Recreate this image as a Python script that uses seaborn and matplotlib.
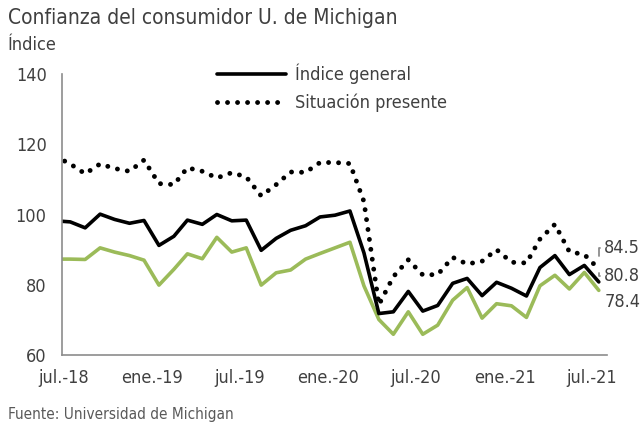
import pandas as pd
import numpy as np
import matplotlib
matplotlib.use("Agg")
import matplotlib.pyplot as plt
import seaborn as sns

# Datos (jun.-18 a jul.-21, mensual)
fechas = pd.date_range("2018-06-01", periods=38, freq="MS") + pd.Timedelta(days=14)

indice_general = [98.2, 97.9, 96.2, 100.1, 98.6, 97.5, 98.3,
                  91.2, 93.8, 98.4, 97.2, 100.0, 98.2, 98.4, 89.8, 93.2, 95.5, 96.8, 99.3,
                  99.8, 101.0, 89.1, 71.8, 72.3, 78.1, 72.5, 74.1, 80.4, 81.8, 76.9, 80.7,
                  79.0, 76.8, 84.9, 88.3, 82.9, 85.5, 80.8]

situacion_presente = [116.5, 114.4, 111.6, 114.4, 113.1, 112.3, 115.5,
                      108.8, 108.5, 113.3, 112.3, 110.4, 111.9, 110.7, 105.3, 108.5, 112.1, 112.0, 114.8,
                      114.8, 114.5, 103.7, 74.3, 82.3, 87.1, 82.8, 82.9, 87.8, 85.9, 86.7, 90.0,
                      86.4, 86.2, 93.0, 97.2, 89.4, 88.6, 84.5]

expectativas = [87.3, 87.3, 87.2, 90.5, 89.3, 88.3, 87.0,
                79.9, 84.4, 88.8, 87.4, 93.5, 89.3, 90.5, 79.9, 83.4, 84.2, 87.3, 88.9,
                90.5, 92.1, 79.7, 70.1, 65.9, 72.3, 65.9, 68.5, 75.6, 79.2, 70.5, 74.6,
                74.0, 70.7, 79.7, 82.7, 78.8, 83.5, 78.4]

ticks_x = pd.date_range("2018-07-01", "2021-07-01", freq="6MS")
etiquetas_x = ["jul.-18", "ene.-19", "jul.-19", "ene.-20", "jul.-20", "ene.-21", "jul.-21"]

sns.set_style("white")
plt.rcParams["font.family"] = ["DejaVu Sans"]
plt.rcParams["font.stretch"] = "condensed"

gris = "#8c8c8c"
texto = "#404040"
verde = "#9BBB59"

fig = plt.figure(figsize=(6.42, 4.28), dpi=100)
ax = fig.add_axes([62 / 642, 1 - 355 / 428, 545 / 642, 281 / 428])

sns.lineplot(x=fechas, y=expectativas, ax=ax, color=verde, linewidth=2.6, legend=False)
sns.lineplot(x=fechas, y=indice_general, ax=ax, color="black", linewidth=2.6, legend=False)
sns.lineplot(x=fechas, y=situacion_presente, ax=ax, color="black", linewidth=3.5,
             linestyle=(0, (0.01, 2.05)), legend=False)

lineas = ax.get_lines()
lineas[2].set_dash_capstyle("round")

ax.set_xlim(pd.Timestamp("2018-06-28"), pd.Timestamp("2021-08-01"))
ax.set_ylim(60, 140)
ax.set_yticks([60, 80, 100, 120, 140])
ax.set_xticks(ticks_x)
ax.set_xticklabels(etiquetas_x)
ax.set_xlabel("")
ax.set_ylabel("")

for lado in ["top", "right"]:
    ax.spines[lado].set_visible(False)
for lado in ["left", "bottom"]:
    ax.spines[lado].set_color(gris)
    ax.spines[lado].set_linewidth(1.2)
ax.tick_params(axis="both", colors=gris, length=5, width=1.2, direction="out",
               labelcolor=texto, labelsize=13, pad=6)
ax.tick_params(axis="x", pad=5)

# Leyenda
leg = ax.legend(handles=[lineas[1], lineas[2]], labels=["Índice general", "Situación presente"],
                loc="upper left", bbox_to_anchor=(0.255, 1.095), frameon=False,
                fontsize=13, handlelength=3.8, handletextpad=0.5, labelspacing=0.55)
for t in leg.get_texts():
    t.set_color(texto)

# Etiquetas finales
ult = fechas[-1]
ax.annotate(f"{situacion_presente[-1]}", xy=(ult, situacion_presente[-1]), xytext=(4, 15),
            textcoords="offset points", va="center", ha="left", fontsize=13, color=texto,
            annotation_clip=False,
            arrowprops=dict(arrowstyle="-", color=gris, lw=1.3, shrinkA=1, shrinkB=9,
                            connectionstyle="angle,angleA=0,angleB=90,rad=0"))
ax.annotate(f"{indice_general[-1]}", xy=(ult, situacion_presente[-1]), xytext=(4, -5),
            textcoords="offset points", va="center", ha="left", fontsize=13, color=texto,
            annotation_clip=False,
            arrowprops=dict(arrowstyle="-", color=gris, lw=1.3, shrinkA=1, shrinkB=3,
                            connectionstyle="angle,angleA=0,angleB=90,rad=0"))
ax.annotate(f"{expectativas[-1]}", xy=(ult, expectativas[-1]), xytext=(4, -8.5),
            textcoords="offset points", va="center", ha="left", fontsize=13, color=texto,
            annotation_clip=False)

fig.text(8 / 642, 1 - 18 / 428, "Confianza del consumidor U. de Michigan",
         fontsize=15, color=texto, va="center", ha="left")
fig.text(8 / 642, 1 - 45 / 428, "Índice", fontsize=13, color=texto, va="center", ha="left")
fig.text(8 / 642, 1 - 415 / 428, "Fuente: Universidad de Michigan",
         fontsize=11, color="#595959", va="center", ha="left")

fig.savefig("out.png", dpi=100)
plt.close(fig)
